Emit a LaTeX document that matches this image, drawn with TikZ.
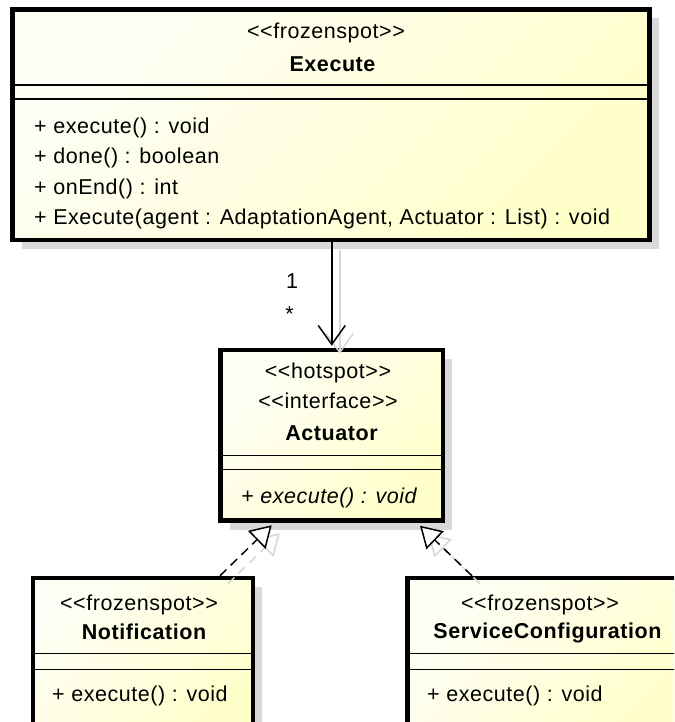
\documentclass[tikz,border=0pt]{standalone}
\usepackage{fontspec}
\setmainfont{Liberation Sans}[Ligatures=TeXOff, LetterSpace=2.6]
\usetikzlibrary{arrows.meta,shadows}

\definecolor{fillLight}{HTML}{FEFEF6}
\definecolor{fillDeep}{HTML}{FFFFCA}
\definecolor{boxShadow}{HTML}{D9D9D9}
\definecolor{wireShadow}{HTML}{D6D6D6}

\tikzset{
  classbox/.style={draw=black, line width=4.5pt, inner sep=0pt,
    top color=fillLight, bottom color=fillDeep, shading angle=45,
    drop shadow={shadow xshift=9pt, shadow yshift=-9pt, fill=boxShadow, opacity=1}},
  divider/.style={line width=1.4pt},
  umltext/.style={inner sep=0pt, font=\fontsize{21.5}{30}\selectfont},
  ctext/.style={umltext, anchor=base},
  ltext/.style={umltext, anchor=base west},
  bold/.style={font=\fontsize{21.5}{30}\selectfont\bfseries},
  assocline/.style={line width=1.5pt, -{Straight Barb[length=19pt, width=27pt]}},
  realizeline/.style={line width=1.5pt, dash pattern=on 9pt off 6pt,
    -{Triangle[length=21pt, width=25pt, fill=white]}},
  wireshade/.style={draw=wireShadow, transform canvas={xshift=8pt, yshift=-8pt}},
}

\begin{document}
\begin{tikzpicture}[x=1pt, y=-1pt]
\useasboundingbox (0,0) rectangle (674,722);
\clip (0,0) rectangle (674,722);

% ---------- class boxes ----------
\node[classbox, minimum width=637pt, minimum height=230.5pt] (exec) at (331,124.75) {};
\node[classbox, minimum width=222.5pt, minimum height=170.5pt] (act) at (331.75,435.25) {};
\node[classbox, minimum width=220pt, minimum height=167pt] (notif) at (143,661.5) {};
\node[classbox, minimum width=280.5pt, minimum height=167pt] (serv) at (547.75,661.5) {};

% ---------- compartment dividers ----------
\draw[divider] (exec.west |- 0,85) -- (exec.east |- 0,85);
\draw[divider] (exec.west |- 0,99) -- (exec.east |- 0,99);
\draw[divider] (act.west |- 0,455.3) -- (act.east |- 0,455.3);
\draw[divider] (act.west |- 0,469.3) -- (act.east |- 0,469.3);
\draw[divider] (notif.west |- 0,653.3) -- (notif.east |- 0,653.3);
\draw[divider] (notif.west |- 0,669.3) -- (notif.east |- 0,669.3);
\draw[divider] (serv.west |- 0,653.3) -- (serv.east |- 0,653.3);
\draw[divider] (serv.west |- 0,669.3) -- (serv.east |- 0,669.3);

% ---------- Execute ----------
\node[ctext] (execSt) at (326,38.5) {<<frozenspot>>};
\node[ctext, bold] (execNm) at (332.5,71.5) {Execute};
\node[ltext] (execOp1) at (34,133.5) {+ execute() : void};
\node[ltext] (execOp2) at (34,164) {+ done() : boolean};
\node[ltext] (execOp3) at (34,194) {+ onEnd() : int};
\node[ltext] (execOp4) at (34,224) {+ Execute(agent : AdaptationAgent, Actuator : List) : void};

% ---------- Actuator ----------
\node[ctext] (actSt1) at (328,378.3) {<<hotspot>>};
\node[ctext] (actSt2) at (328,408.3) {<<interface>>};
\node[ctext, bold] (actNm) at (331.5,440.7) {Actuator};
\node[ltext] (actOp) at (241,503.3) {\itshape + execute() : void};

% ---------- Notification ----------
\node[ctext] (notifSt) at (139,610) {<<frozenspot>>};
\node[ctext, bold] (notifNm) at (144,639.3) {Notification};
\node[ltext] (notifOp) at (52,701.7) {+ execute() : void};

% ---------- ServiceConfiguration ----------
\node[ctext] (servSt) at (540,610) {<<frozenspot>>};
\node[ctext, bold] (servNm) at (547.5,638.5) {ServiceConfiguration};
\node[ltext] (servOp) at (427,701.7) {+ execute() : void};

% ---------- connector shadows ----------
\draw[assocline, wireshade] (act.north |- exec.south) -- ([shift={(0,-2)}]act.north);
\draw[realizeline, wireshade] ([xshift=77pt]notif.north) -- ([shift={(-60,2.5)}]act.south);
\draw[realizeline, wireshade] ([xshift=-75.75pt]serv.north) -- ([shift={(88.25,3)}]act.south);

% ---------- connectors ----------
\draw[assocline] (act.north |- exec.south) -- ([shift={(0,-2)}]act.north);
\draw[realizeline] ([xshift=77pt]notif.north) -- ([shift={(-60,2.5)}]act.south);
\draw[realizeline] ([xshift=-75.75pt]serv.north) -- ([shift={(88.25,3)}]act.south);

% ---------- multiplicities ----------
\node[ctext] (multOne) at (292,288.3) {1};
\node[ctext] (multMany) at (289.5,321) {*};
\end{tikzpicture}
\end{document}
